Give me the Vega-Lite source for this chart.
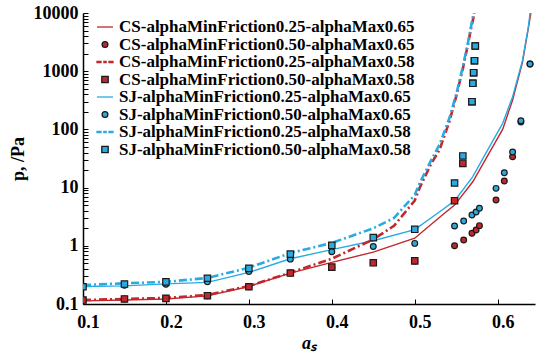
{
  "$schema": "https://vega.github.io/schema/vega-lite/v6.json",
  "width": 452,
  "height": 291,
  "autosize": "none",
  "padding": {"left": 83, "top": 13, "right": 4, "bottom": 52},
  "background": "white",
  "config": {
    "view": {"stroke": null},
    "axis": {
      "labelFont": "Liberation Serif", "labelFontWeight": "bold", "labelFontSize": 18, "labelColor": "black",
      "titleFont": "Liberation Serif", "titleFontWeight": "bold", "titleFontSize": 18, "titleColor": "black",
      "domainColor": "black", "domainWidth": 1.5, "tickColor": "black", "grid": false
    },
    "legend": {
      "title": null, "orient": "top-left", "offset": 5, "padding": 0,
      "labelFont": "Liberation Serif", "labelFontWeight": "bold", "labelFontSize": 17, "labelColor": "black",
      "labelLimit": 500, "symbolSize": 256, "labelOffset": 5, "rowPadding": 0.5, "symbolOffset": 8,
      "symbolStrokeWidth": 1.3, "symbolOpacity": 1
    }
  },
  "datasets": {
    "curves": [
      {"series": "CS-alphaMinFriction0.25-alphaMax0.65", "a": 0.1, "p": 0.113},
      {"series": "CS-alphaMinFriction0.25-alphaMax0.65", "a": 0.15, "p": 0.117},
      {"series": "CS-alphaMinFriction0.25-alphaMax0.65", "a": 0.2, "p": 0.122},
      {"series": "CS-alphaMinFriction0.25-alphaMax0.65", "a": 0.25, "p": 0.138},
      {"series": "CS-alphaMinFriction0.25-alphaMax0.65", "a": 0.3, "p": 0.2},
      {"series": "CS-alphaMinFriction0.25-alphaMax0.65", "a": 0.35, "p": 0.34},
      {"series": "CS-alphaMinFriction0.25-alphaMax0.65", "a": 0.4, "p": 0.52},
      {"series": "CS-alphaMinFriction0.25-alphaMax0.65", "a": 0.45, "p": 0.78},
      {"series": "CS-alphaMinFriction0.25-alphaMax0.65", "a": 0.5, "p": 1.35},
      {"series": "CS-alphaMinFriction0.25-alphaMax0.65", "a": 0.53, "p": 3.1},
      {"series": "CS-alphaMinFriction0.25-alphaMax0.65", "a": 0.548, "p": 5.0},
      {"series": "CS-alphaMinFriction0.25-alphaMax0.65", "a": 0.57, "p": 12.6},
      {"series": "CS-alphaMinFriction0.25-alphaMax0.65", "a": 0.59, "p": 40},
      {"series": "CS-alphaMinFriction0.25-alphaMax0.65", "a": 0.606, "p": 100},
      {"series": "CS-alphaMinFriction0.25-alphaMax0.65", "a": 0.618, "p": 320},
      {"series": "CS-alphaMinFriction0.25-alphaMax0.65", "a": 0.63, "p": 1450},
      {"series": "CS-alphaMinFriction0.25-alphaMax0.65", "a": 0.637, "p": 5500},
      {"series": "CS-alphaMinFriction0.25-alphaMax0.65", "a": 0.64, "p": 10000},

      {"series": "CS-alphaMinFriction0.25-alphaMax0.58", "a": 0.1, "p": 0.117},
      {"series": "CS-alphaMinFriction0.25-alphaMax0.58", "a": 0.15, "p": 0.122},
      {"series": "CS-alphaMinFriction0.25-alphaMax0.58", "a": 0.2, "p": 0.127},
      {"series": "CS-alphaMinFriction0.25-alphaMax0.58", "a": 0.25, "p": 0.143},
      {"series": "CS-alphaMinFriction0.25-alphaMax0.58", "a": 0.3, "p": 0.204},
      {"series": "CS-alphaMinFriction0.25-alphaMax0.58", "a": 0.35, "p": 0.345},
      {"series": "CS-alphaMinFriction0.25-alphaMax0.58", "a": 0.4, "p": 0.6},
      {"series": "CS-alphaMinFriction0.25-alphaMax0.58", "a": 0.45, "p": 1.29},
      {"series": "CS-alphaMinFriction0.25-alphaMax0.58", "a": 0.475, "p": 2.2},
      {"series": "CS-alphaMinFriction0.25-alphaMax0.58", "a": 0.5, "p": 6},
      {"series": "CS-alphaMinFriction0.25-alphaMax0.58", "a": 0.506, "p": 10},
      {"series": "CS-alphaMinFriction0.25-alphaMax0.58", "a": 0.52, "p": 26},
      {"series": "CS-alphaMinFriction0.25-alphaMax0.58", "a": 0.53, "p": 45},
      {"series": "CS-alphaMinFriction0.25-alphaMax0.58", "a": 0.542, "p": 140},
      {"series": "CS-alphaMinFriction0.25-alphaMax0.58", "a": 0.55, "p": 370},
      {"series": "CS-alphaMinFriction0.25-alphaMax0.58", "a": 0.558, "p": 1100},
      {"series": "CS-alphaMinFriction0.25-alphaMax0.58", "a": 0.564, "p": 2800},
      {"series": "CS-alphaMinFriction0.25-alphaMax0.58", "a": 0.568, "p": 5500},
      {"series": "CS-alphaMinFriction0.25-alphaMax0.58", "a": 0.572, "p": 10000},

      {"series": "SJ-alphaMinFriction0.25-alphaMax0.65", "a": 0.1, "p": 0.2},
      {"series": "SJ-alphaMinFriction0.25-alphaMax0.65", "a": 0.15, "p": 0.205},
      {"series": "SJ-alphaMinFriction0.25-alphaMax0.65", "a": 0.2, "p": 0.222},
      {"series": "SJ-alphaMinFriction0.25-alphaMax0.65", "a": 0.25, "p": 0.235},
      {"series": "SJ-alphaMinFriction0.25-alphaMax0.65", "a": 0.3, "p": 0.35},
      {"series": "SJ-alphaMinFriction0.25-alphaMax0.65", "a": 0.35, "p": 0.6},
      {"series": "SJ-alphaMinFriction0.25-alphaMax0.65", "a": 0.4, "p": 0.86},
      {"series": "SJ-alphaMinFriction0.25-alphaMax0.65", "a": 0.45, "p": 1.22},
      {"series": "SJ-alphaMinFriction0.25-alphaMax0.65", "a": 0.5, "p": 1.9},
      {"series": "SJ-alphaMinFriction0.25-alphaMax0.65", "a": 0.53, "p": 3.85},
      {"series": "SJ-alphaMinFriction0.25-alphaMax0.65", "a": 0.548, "p": 5.9},
      {"series": "SJ-alphaMinFriction0.25-alphaMax0.65", "a": 0.57, "p": 15.4},
      {"series": "SJ-alphaMinFriction0.25-alphaMax0.65", "a": 0.59, "p": 50},
      {"series": "SJ-alphaMinFriction0.25-alphaMax0.65", "a": 0.606, "p": 127},
      {"series": "SJ-alphaMinFriction0.25-alphaMax0.65", "a": 0.618, "p": 365},
      {"series": "SJ-alphaMinFriction0.25-alphaMax0.65", "a": 0.63, "p": 1550},
      {"series": "SJ-alphaMinFriction0.25-alphaMax0.65", "a": 0.637, "p": 5800},
      {"series": "SJ-alphaMinFriction0.25-alphaMax0.65", "a": 0.639, "p": 10000},

      {"series": "SJ-alphaMinFriction0.25-alphaMax0.58", "a": 0.1, "p": 0.212},
      {"series": "SJ-alphaMinFriction0.25-alphaMax0.58", "a": 0.15, "p": 0.227},
      {"series": "SJ-alphaMinFriction0.25-alphaMax0.58", "a": 0.2, "p": 0.24},
      {"series": "SJ-alphaMinFriction0.25-alphaMax0.58", "a": 0.25, "p": 0.28},
      {"series": "SJ-alphaMinFriction0.25-alphaMax0.58", "a": 0.3, "p": 0.42},
      {"series": "SJ-alphaMinFriction0.25-alphaMax0.58", "a": 0.35, "p": 0.75},
      {"series": "SJ-alphaMinFriction0.25-alphaMax0.58", "a": 0.4, "p": 1.12},
      {"series": "SJ-alphaMinFriction0.25-alphaMax0.58", "a": 0.45, "p": 2.0},
      {"series": "SJ-alphaMinFriction0.25-alphaMax0.58", "a": 0.475, "p": 3.0},
      {"series": "SJ-alphaMinFriction0.25-alphaMax0.58", "a": 0.5, "p": 7.5},
      {"series": "SJ-alphaMinFriction0.25-alphaMax0.58", "a": 0.506, "p": 12},
      {"series": "SJ-alphaMinFriction0.25-alphaMax0.58", "a": 0.52, "p": 30},
      {"series": "SJ-alphaMinFriction0.25-alphaMax0.58", "a": 0.53, "p": 55},
      {"series": "SJ-alphaMinFriction0.25-alphaMax0.58", "a": 0.542, "p": 160},
      {"series": "SJ-alphaMinFriction0.25-alphaMax0.58", "a": 0.55, "p": 400},
      {"series": "SJ-alphaMinFriction0.25-alphaMax0.58", "a": 0.558, "p": 1200},
      {"series": "SJ-alphaMinFriction0.25-alphaMax0.58", "a": 0.564, "p": 3000},
      {"series": "SJ-alphaMinFriction0.25-alphaMax0.58", "a": 0.568, "p": 6000},
      {"series": "SJ-alphaMinFriction0.25-alphaMax0.58", "a": 0.571, "p": 10000}
    ],
    "markers": [
      {"series": "CS-alphaMinFriction0.50-alphaMax0.65", "a": 0.1, "p": 0.117},
      {"series": "CS-alphaMinFriction0.50-alphaMax0.65", "a": 0.15, "p": 0.122},
      {"series": "CS-alphaMinFriction0.50-alphaMax0.65", "a": 0.2, "p": 0.125},
      {"series": "CS-alphaMinFriction0.50-alphaMax0.65", "a": 0.25, "p": 0.139},
      {"series": "CS-alphaMinFriction0.50-alphaMax0.65", "a": 0.3, "p": 0.198},
      {"series": "CS-alphaMinFriction0.50-alphaMax0.65", "a": 0.35, "p": 0.34},
      {"series": "CS-alphaMinFriction0.50-alphaMax0.65", "a": 0.4, "p": 0.43},
      {"series": "CS-alphaMinFriction0.50-alphaMax0.65", "a": 0.45, "p": 0.51},
      {"series": "CS-alphaMinFriction0.50-alphaMax0.65", "a": 0.5, "p": 0.55},
      {"series": "CS-alphaMinFriction0.50-alphaMax0.65", "a": 0.548, "p": 1.0},
      {"series": "CS-alphaMinFriction0.50-alphaMax0.65", "a": 0.559, "p": 1.26},
      {"series": "CS-alphaMinFriction0.50-alphaMax0.65", "a": 0.569, "p": 1.64},
      {"series": "CS-alphaMinFriction0.50-alphaMax0.65", "a": 0.574, "p": 1.87},
      {"series": "CS-alphaMinFriction0.50-alphaMax0.65", "a": 0.578, "p": 2.22},
      {"series": "CS-alphaMinFriction0.50-alphaMax0.65", "a": 0.598, "p": 6.1},
      {"series": "CS-alphaMinFriction0.50-alphaMax0.65", "a": 0.608, "p": 13},
      {"series": "CS-alphaMinFriction0.50-alphaMax0.65", "a": 0.618, "p": 34},
      {"series": "CS-alphaMinFriction0.50-alphaMax0.65", "a": 0.628, "p": 134},
      {"series": "CS-alphaMinFriction0.50-alphaMax0.65", "a": 0.639, "p": 1330},

      {"series": "CS-alphaMinFriction0.50-alphaMax0.58", "a": 0.1, "p": 0.117},
      {"series": "CS-alphaMinFriction0.50-alphaMax0.58", "a": 0.15, "p": 0.122},
      {"series": "CS-alphaMinFriction0.50-alphaMax0.58", "a": 0.2, "p": 0.125},
      {"series": "CS-alphaMinFriction0.50-alphaMax0.58", "a": 0.25, "p": 0.139},
      {"series": "CS-alphaMinFriction0.50-alphaMax0.58", "a": 0.3, "p": 0.198},
      {"series": "CS-alphaMinFriction0.50-alphaMax0.58", "a": 0.35, "p": 0.34},
      {"series": "CS-alphaMinFriction0.50-alphaMax0.58", "a": 0.4, "p": 0.43},
      {"series": "CS-alphaMinFriction0.50-alphaMax0.58", "a": 0.45, "p": 0.51},
      {"series": "CS-alphaMinFriction0.50-alphaMax0.58", "a": 0.5, "p": 0.55},
      {"series": "CS-alphaMinFriction0.50-alphaMax0.58", "a": 0.548, "p": 5.96},
      {"series": "CS-alphaMinFriction0.50-alphaMax0.58", "a": 0.558, "p": 26},
      {"series": "CS-alphaMinFriction0.50-alphaMax0.58", "a": 0.569, "p": 299},
      {"series": "CS-alphaMinFriction0.50-alphaMax0.58", "a": 0.57, "p": 620},
      {"series": "CS-alphaMinFriction0.50-alphaMax0.58", "a": 0.571, "p": 942},
      {"series": "CS-alphaMinFriction0.50-alphaMax0.58", "a": 0.572, "p": 1514},
      {"series": "CS-alphaMinFriction0.50-alphaMax0.58", "a": 0.573, "p": 2710},

      {"series": "SJ-alphaMinFriction0.50-alphaMax0.65", "a": 0.1, "p": 0.198},
      {"series": "SJ-alphaMinFriction0.50-alphaMax0.65", "a": 0.15, "p": 0.21},
      {"series": "SJ-alphaMinFriction0.50-alphaMax0.65", "a": 0.2, "p": 0.218},
      {"series": "SJ-alphaMinFriction0.50-alphaMax0.65", "a": 0.25, "p": 0.24},
      {"series": "SJ-alphaMinFriction0.50-alphaMax0.65", "a": 0.3, "p": 0.36},
      {"series": "SJ-alphaMinFriction0.50-alphaMax0.65", "a": 0.35, "p": 0.59},
      {"series": "SJ-alphaMinFriction0.50-alphaMax0.65", "a": 0.4, "p": 0.79},
      {"series": "SJ-alphaMinFriction0.50-alphaMax0.65", "a": 0.45, "p": 0.97},
      {"series": "SJ-alphaMinFriction0.50-alphaMax0.65", "a": 0.5, "p": 1.1},
      {"series": "SJ-alphaMinFriction0.50-alphaMax0.65", "a": 0.548, "p": 2.19},
      {"series": "SJ-alphaMinFriction0.50-alphaMax0.65", "a": 0.559, "p": 2.67},
      {"series": "SJ-alphaMinFriction0.50-alphaMax0.65", "a": 0.569, "p": 3.38},
      {"series": "SJ-alphaMinFriction0.50-alphaMax0.65", "a": 0.574, "p": 3.81},
      {"series": "SJ-alphaMinFriction0.50-alphaMax0.65", "a": 0.578, "p": 4.41},
      {"series": "SJ-alphaMinFriction0.50-alphaMax0.65", "a": 0.598, "p": 9.7},
      {"series": "SJ-alphaMinFriction0.50-alphaMax0.65", "a": 0.608, "p": 18},
      {"series": "SJ-alphaMinFriction0.50-alphaMax0.65", "a": 0.618, "p": 41},
      {"series": "SJ-alphaMinFriction0.50-alphaMax0.65", "a": 0.628, "p": 141},
      {"series": "SJ-alphaMinFriction0.50-alphaMax0.65", "a": 0.639, "p": 1330},

      {"series": "SJ-alphaMinFriction0.50-alphaMax0.58", "a": 0.1, "p": 0.198},
      {"series": "SJ-alphaMinFriction0.50-alphaMax0.58", "a": 0.15, "p": 0.22},
      {"series": "SJ-alphaMinFriction0.50-alphaMax0.58", "a": 0.2, "p": 0.24},
      {"series": "SJ-alphaMinFriction0.50-alphaMax0.58", "a": 0.25, "p": 0.277},
      {"series": "SJ-alphaMinFriction0.50-alphaMax0.58", "a": 0.3, "p": 0.41},
      {"series": "SJ-alphaMinFriction0.50-alphaMax0.58", "a": 0.35, "p": 0.72},
      {"series": "SJ-alphaMinFriction0.50-alphaMax0.58", "a": 0.4, "p": 1.02},
      {"series": "SJ-alphaMinFriction0.50-alphaMax0.58", "a": 0.45, "p": 1.38},
      {"series": "SJ-alphaMinFriction0.50-alphaMax0.58", "a": 0.5, "p": 1.92},
      {"series": "SJ-alphaMinFriction0.50-alphaMax0.58", "a": 0.548, "p": 12},
      {"series": "SJ-alphaMinFriction0.50-alphaMax0.58", "a": 0.558, "p": 35},
      {"series": "SJ-alphaMinFriction0.50-alphaMax0.58", "a": 0.569, "p": 299},
      {"series": "SJ-alphaMinFriction0.50-alphaMax0.58", "a": 0.57, "p": 620},
      {"series": "SJ-alphaMinFriction0.50-alphaMax0.58", "a": 0.571, "p": 942},
      {"series": "SJ-alphaMinFriction0.50-alphaMax0.58", "a": 0.572, "p": 1514},
      {"series": "SJ-alphaMinFriction0.50-alphaMax0.58", "a": 0.573, "p": 2710}
    ]
  },
  "encoding": {
    "x": {
      "field": "a", "type": "quantitative",
      "scale": {"domain": [0.1, 0.645], "zero": false, "nice": false},
      "axis": {"title": "aₛ", "titleFontStyle": "italic", "values": [0.1, 0.2, 0.3, 0.4, 0.5, 0.6], "format": ".1f",
               "tickSize": -5, "labelPadding": 14, "labelOffset": 5, "labelFlush": false, "titlePadding": 3}
    },
    "y": {
      "field": "p", "type": "quantitative",
      "scale": {"type": "log", "domain": [0.1, 10000], "nice": false},
      "axis": {
        "title": "p, /Pa", "titlePadding": 6,
        "values": [0.1,0.2,0.3,0.4,0.5,0.6,0.7,0.8,0.9,1,2,3,4,5,6,7,8,9,10,20,30,40,50,60,70,80,90,100,200,300,400,500,600,700,800,900,1000,2000,3000,4000,5000,6000,7000,8000,9000,10000],
        "format": "~g",
        "labelExpr": "abs(log(datum.value)/LN10 - round(log(datum.value)/LN10)) < 1e-6 ? datum.label : ''",
        "tickSize": -5,
        "labelPadding": 10,
        "labelFlush": false
      }
    },
    "stroke": {
      "field": "series", "type": "nominal",
      "scale": {
        "domain": [
          "CS-alphaMinFriction0.25-alphaMax0.65",
          "CS-alphaMinFriction0.50-alphaMax0.65",
          "CS-alphaMinFriction0.25-alphaMax0.58",
          "CS-alphaMinFriction0.50-alphaMax0.58",
          "SJ-alphaMinFriction0.25-alphaMax0.65",
          "SJ-alphaMinFriction0.50-alphaMax0.65",
          "SJ-alphaMinFriction0.25-alphaMax0.58",
          "SJ-alphaMinFriction0.50-alphaMax0.58"
        ],
        "range": ["#c1272d", "#1a1a1a", "#c1272d", "#1a1a1a", "#29abe2", "#1a1a1a", "#29abe2", "#1a1a1a"]
      }
    }
  },
  "layer": [
    {
      "data": {"name": "curves"},
      "transform": [{"filter": "indexof(datum.series, 'Max0.65') >= 0"}],
      "mark": {"type": "line", "strokeWidth": 1.4, "clip": true}
    },
    {
      "data": {"name": "curves"},
      "transform": [{"filter": "indexof(datum.series, 'Max0.58') >= 0"}],
      "mark": {"type": "line", "strokeWidth": 2.6, "strokeDash": [8, 3, 2, 3], "clip": true}
    },
    {
      "data": {"name": "markers"},
      "mark": {"type": "point", "filled": true, "strokeWidth": 1.2, "opacity": 1, "clip": true},
      "encoding": {
        "fill": {
          "field": "series", "type": "nominal",
          "scale": {
            "domain": [
              "CS-alphaMinFriction0.25-alphaMax0.65",
              "CS-alphaMinFriction0.50-alphaMax0.65",
              "CS-alphaMinFriction0.25-alphaMax0.58",
              "CS-alphaMinFriction0.50-alphaMax0.58",
              "SJ-alphaMinFriction0.25-alphaMax0.65",
              "SJ-alphaMinFriction0.50-alphaMax0.65",
              "SJ-alphaMinFriction0.25-alphaMax0.58",
              "SJ-alphaMinFriction0.50-alphaMax0.58"
            ],
            "range": ["#c1272d", "#c1272d", "#c1272d", "#c1272d", "#29abe2", "#29abe2", "#29abe2", "#29abe2"]
          }
        },
        "shape": {
          "field": "series", "type": "nominal",
          "scale": {
            "domain": [
              "CS-alphaMinFriction0.25-alphaMax0.65",
              "CS-alphaMinFriction0.50-alphaMax0.65",
              "CS-alphaMinFriction0.25-alphaMax0.58",
              "CS-alphaMinFriction0.50-alphaMax0.58",
              "SJ-alphaMinFriction0.25-alphaMax0.65",
              "SJ-alphaMinFriction0.50-alphaMax0.65",
              "SJ-alphaMinFriction0.25-alphaMax0.58",
              "SJ-alphaMinFriction0.50-alphaMax0.58"
            ],
            "range": [
              "M-1,0H1",
              "M0.36,0A0.36,0.36,0,1,1,-0.36,0A0.36,0.36,0,1,1,0.36,0Z",
              "M-1,-0.07H-0.5V0.07H-1Z M-0.14,-0.07H0.14V0.07H-0.14Z M0.5,-0.07H1V0.07H0.5Z",
              "M-0.4,-0.4H0.4V0.4H-0.4Z",
              "M-1,0H1",
              "M0.36,0A0.36,0.36,0,1,1,-0.36,0A0.36,0.36,0,1,1,0.36,0Z",
              "M-1,-0.07H-0.5V0.07H-1Z M-0.14,-0.07H0.14V0.07H-0.14Z M0.5,-0.07H1V0.07H0.5Z",
              "M-0.4,-0.4H0.4V0.4H-0.4Z"
            ]
          }
        },
        "size": {"value": 256}
      }
    }
  ]
}
